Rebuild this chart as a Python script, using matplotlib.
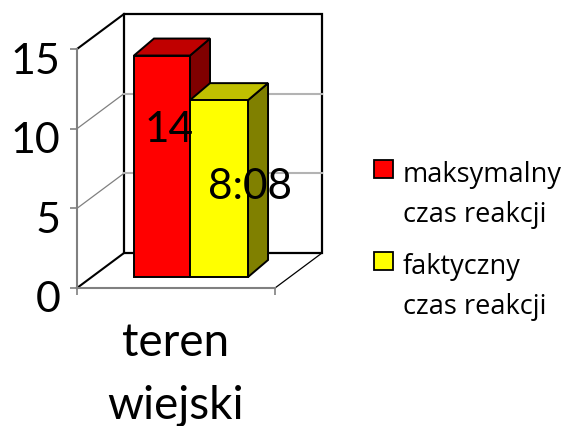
"""3D-look bar chart of reaction times, drawn with plain matplotlib patches."""
import matplotlib.pyplot as plt
from matplotlib.patches import Polygon, Rectangle
from matplotlib.transforms import Affine2D, ScaledTranslation

category = "teren\nwiejski"
series_names = ["maksymalny\nczas reakcji", "faktyczny\nczas reakcji"]
series_values = [13.9, 11.1]
value_labels = ["14", "8:08"]
y_ticks = [0, 5, 10, 15]

front_colors = ["#ff0000", "#ffff00"]
top_colors = ["#c00000", "#c0c000"]
side_colors = ["#800000", "#808000"]

W, H = 573, 427
plt.rcParams["font.family"] = ["Lato", "DejaVu Sans"]

fig = plt.figure(figsize=(W / 100, H / 100), dpi=100)
# front plane of the chart box, in pixels
ax = fig.add_axes([77 / W, 1 - 289 / H, 198 / W, 239 / H])
ax.set_xlim(0, 1)
ax.set_ylim(0, 15)
ax.patch.set_visible(False)
for name in ["top", "right", "bottom"]:
    ax.spines[name].set_visible(False)
ax.spines["left"].set_color("#808080")
ax.spines["left"].set_linewidth(1.5)

ax.set_yticks(y_ticks)
ax.tick_params(axis="y", labelsize=31, length=5, width=1.2, color="#808080", pad=7)
# the tick labels hang a little under their ticks in the original
for label in ax.get_yticklabels():
    label.set_transform(label.get_transform() + ScaledTranslation(0, -8 / 100, fig.dpi_scale_trans))
ax.set_xticks([0.5], [category], linespacing=1.6)
ax.set_xticks([0, 1], minor=True)
ax.tick_params(axis="x", which="major", labelsize=33, length=0, pad=24)
ax.tick_params(axis="x", which="minor", length=5, width=1.2, color="#808080")


def shifted(dx, dy):
    """Data transform moved by some pixels, used for the depth of the box and bars."""
    return ax.transData + Affine2D().translate(dx, dy)


def draw_line(xs, ys, dx_pair, dy_pair, color, lw, z=1):
    # each end of the line can sit at its own depth
    p0 = shifted(dx_pair[0], dy_pair[0]).transform((xs[0], ys[0]))
    p1 = shifted(dx_pair[1], dy_pair[1]).transform((xs[1], ys[1]))
    ax.plot([p0[0], p1[0]], [p0[1], p1[1]], transform=None, color=color, lw=lw,
            zorder=z, clip_on=False, solid_capstyle="projecting")


BOX_DX, BOX_DY = 47, 35
back = shifted(BOX_DX, BOX_DY)

# back wall
ax.add_patch(Rectangle((0, 0), 1, 15, transform=back, fc="white", ec="black", lw=1.6,
                       clip_on=False, zorder=1))
for v in y_ticks[1:-1]:
    ax.plot([0, 1], [v, v], transform=back, color="#b3b3b3", lw=1.5, clip_on=False, zorder=1.5)
    draw_line((0, 0), (v, v), (0, BOX_DX), (0, BOX_DY), "#808080", 0.9)

# side wall and floor edges
draw_line((0, 0), (15, 15), (0, BOX_DX), (0, BOX_DY), "black", 1.5)
draw_line((0, 0), (0, 0), (0, BOX_DX), (0, BOX_DY), "black", 1.5)
draw_line((1, 1), (0, 0), (0, BOX_DX), (0, BOX_DY), "black", 0.9)
ax.plot([0, 1], [0, 0], color="#808080", lw=1.5, clip_on=False, zorder=1.5)

# bars, standing part way into the floor
BAR_DX, BAR_DY = 16, 11
DEPTH_DX, DEPTH_DY = 20, 17
bar_left = [0.207, 0.49]
bar_width = [0.283, 0.293]
front_tr = shifted(BAR_DX, BAR_DY)
for i, value in enumerate(series_values):
    x0, x1 = bar_left[i], bar_left[i] + bar_width[i]
    a = front_tr.transform((x0, value))
    b = front_tr.transform((x1, value))
    c = front_tr.transform((x1, 0))
    off = (DEPTH_DX, DEPTH_DY)
    top = [a, b, b + off, a + off]
    side = [b, c, c + off, b + off]
    z = 2 + i
    for pts, col in [(side, side_colors[i]), (top, top_colors[i])]:
        ax.add_patch(Polygon(pts, closed=True, transform=None, fc=col, ec="black", lw=1.4,
                             clip_on=False, zorder=z, joinstyle="miter"))
    ax.add_patch(Rectangle((x0, 0), x1 - x0, value, transform=front_tr, fc=front_colors[i],
                           ec="black", lw=1.4, clip_on=False, zorder=z + 0.1))

# value labels sit at hand-read pixel offsets from the bar tops
label_offsets = [(7, -73), (31, -86)]
for i, text in enumerate(value_labels):
    ax.text(bar_left[i] + bar_width[i] / 2, series_values[i], text,
            transform=shifted(BAR_DX + label_offsets[i][0], BAR_DY + label_offsets[i][1]),
            ha="center", va="center", fontsize=30.5, color="black", zorder=6, clip_on=False)

# legend, laid out by hand because of the two-line entries
legend_y = [170, 262]
for name, col, y in zip(series_names, front_colors, legend_y):
    fig.add_artist(Rectangle((374 / W, 1 - (y + 9) / H), 19 / W, 18 / H, transform=fig.transFigure,
                             fc=col, ec="black", lw=1.3))
    fig.text(403 / W, 1 - (y - 9) / H, name, fontsize=19.5, va="top", ha="left",
             linespacing=1.58, color="black", family="Open Sans")

fig.savefig("out.png", dpi=100)
